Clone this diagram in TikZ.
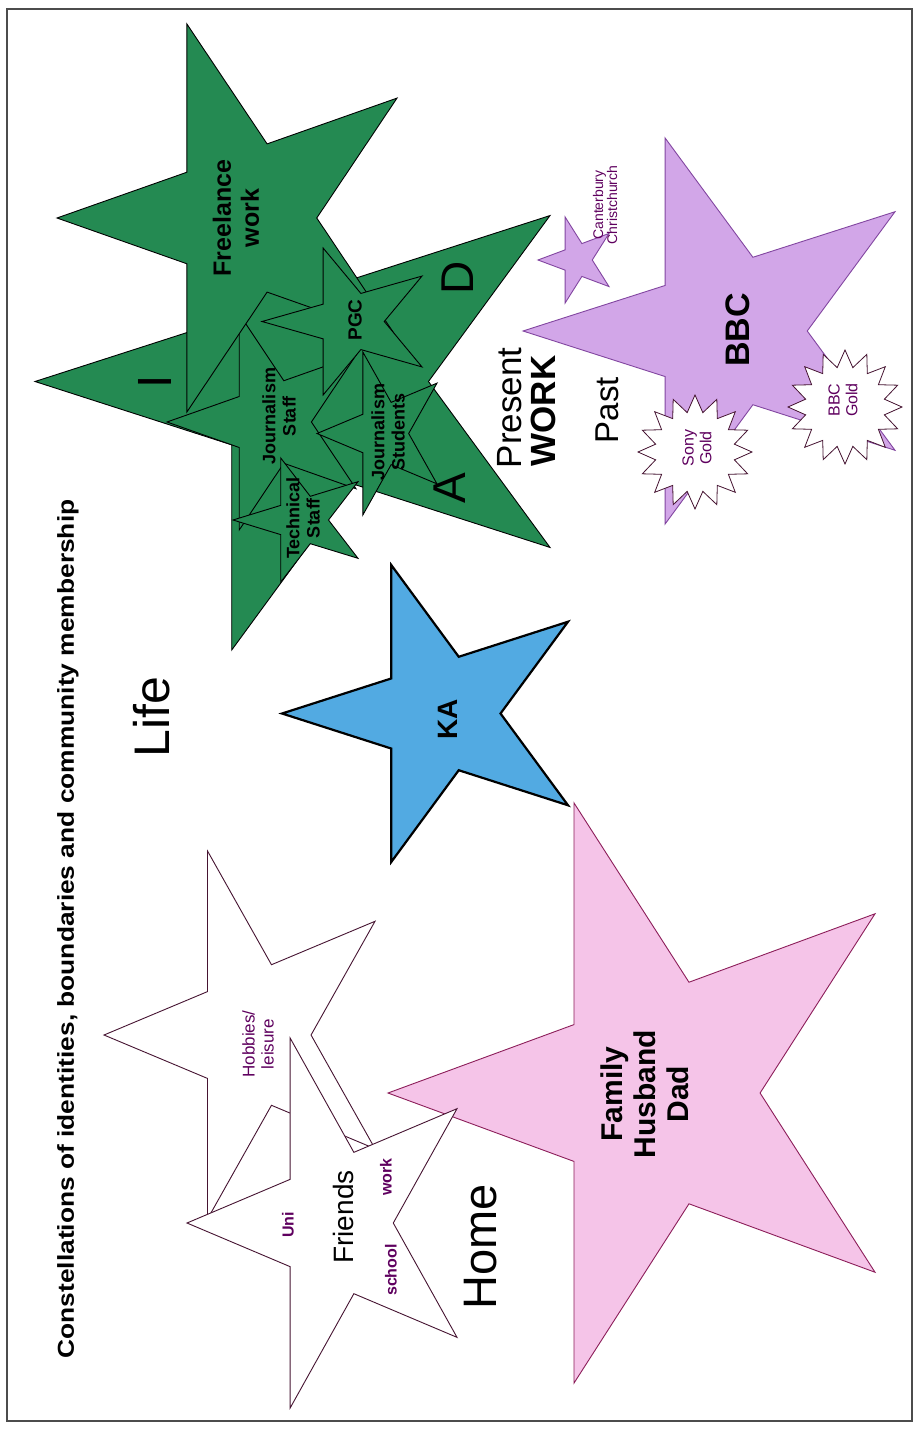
\documentclass[tikz,border=0pt]{standalone}
\usepackage{fontspec}
\setmainfont{Liberation Sans}
\newfontfamily\widefont{Liberation Sans}[FakeStretch=1.145]
\usetikzlibrary{shapes.geometric}
\definecolor{grn}{RGB}{36,138,82}
\definecolor{kablue}{RGB}{82,170,226}
\definecolor{pinkf}{RGB}{245,196,232}
\definecolor{pinkd}{RGB}{140,30,90}
\definecolor{lilac}{RGB}{210,166,232}
\definecolor{lilacd}{RGB}{130,70,160}
\definecolor{lblp}{RGB}{95,0,95}
\definecolor{wline}{RGB}{70,20,50}
\newcommand{\fs}[1]{\fontsize{#1pt}{\the\dimexpr #1pt*112/100\relax}\selectfont}
\newcommand{\pstar}[5]{%
  \begin{scope}[shift={(#2,#4)},xscale={#3-#2},yscale={#5-#4}]
    \path[#1] (0,0.5) -- (0.382,0.382) -- (0.382,0) -- (0.618,0.309) -- (1,0.191)
      -- (0.764,0.5) -- (1,0.809) -- (0.618,0.691) -- (0.382,1) -- (0.382,0.618) -- cycle;
  \end{scope}}
\tikzset{
  gstar/.style={draw=black, fill=grn, line width=0.9pt, line join=miter},
  lbl/.style={rotate=90, inner sep=0pt, align=center},
  seal/.style={star, star points=16, star point ratio=1.42, minimum size=114pt,
    draw=wline, fill=white, line width=0.8pt, inner sep=0pt}
}
\begin{document}
\begin{tikzpicture}[x=1pt,y=-1pt]
\useasboundingbox (0,0) rectangle (918,1429);
\fill[white] (0,0) rectangle (918,1429);
\draw[black!70, line width=1.5pt] (7,9) rectangle (912,1421);

% green cluster
\pstar{gstar}{35}{550}{113}{650}
\pstar{gstar}{167}{356}{314}{530}
\pstar{gstar}{233}{358}{458}{582}
\pstar{gstar}{57}{397}{24}{412}
\pstar{gstar}{262}{422}{248}{395}
\pstar{gstar}{317}{437}{352}{515}

% KA
\pstar{draw=black, fill=kablue, line width=2.2pt, line join=miter}{282}{568}{565}{862}

% Family
\pstar{draw=pinkd, fill=pinkf, line width=0.9pt}{388}{875}{803}{1383}

% Hobbies and Friends
\pstar{draw=wline, fill=white, line width=0.9pt}{104}{375}{851}{1219}
\pstar{draw=wline, fill=white, line width=0.9pt}{187}{457}{1038}{1408}

% BBC and Canterbury
\pstar{draw=lilacd, fill=lilac, line width=0.9pt}{523}{895}{138}{524}
\pstar{draw=lilacd, fill=lilac, line width=0.9pt}{538}{609}{217}{303}

% seals
\node[seal] (sony) at (695,452) {};
\node[seal] (bbcgold) at (845,407) {};

% texts
\node[lbl, font=\widefont\fs{23}\bfseries] (title) at (68,929) {Constellations of identities, boundaries and community membership};
\node[lbl, font=\fs{50}] (life) at (152,717) {Life};
\node[lbl, font=\fs{47}] (home) at (481,1247) {Home};
\node[lbl, font=\fs{35}] (present) at (510,408) {Present};
\node[lbl, font=\fs{35}\bfseries] (work) at (543,411) {WORK};
\node[lbl, font=\fs{33}] (past) at (607,410) {Past};
\node[lbl, font=\fs{34}\bfseries] (bbc) at (738,330) {BBC};
\node[lbl, font=\fs{16}, text=lblp] (sonyt) at (697,448) {Sony\\Gold};
\node[lbl, font=\fs{16}, text=lblp] (bbcgoldt) at (843,400) {BBC\\Gold};
\node[lbl, font=\fontsize{14pt}{14pt}\selectfont, text=lblp] (cant) at (605,205) {Canterbury\\Christchurch};
\node[lbl, font=\fontsize{30pt}{33pt}\selectfont\bfseries] (family) at (645,1094) {Family\\Husband\\Dad};
\node[lbl, font=\fs{28}\bfseries] (ka) at (448,719) {KA};
\node[lbl, font=\fs{17}, text=lblp] (hobbies) at (258,1044) {Hobbies/\\leisure};
\node[lbl, font=\fs{28}] (friends) at (343,1217) {Friends};
\node[lbl, font=\fs{16}\bfseries, text=lblp] (uni) at (288,1225) {Uni};
\node[lbl, font=\fs{16}\bfseries, text=lblp] (workf) at (386,1177) {work};
\node[lbl, font=\fs{16}\bfseries, text=lblp] (school) at (391,1270) {school};
\node[lbl, font=\fs{25}\bfseries] (freelance) at (236,218) {Freelance\\work};
\node[lbl, font=\fs{19}\bfseries] (pgc) at (355,320) {PGC};
\node[lbl, font=\fs{18}\bfseries] (jstaff) at (279,416) {Journalism\\Staff};
\node[lbl, font=\fs{18}\bfseries] (jstud) at (388,432) {Journalism\\Students};
\node[lbl, font=\fs{18}\bfseries] (tech) at (303,518) {Technical\\Staff};
\node[lbl, font=\fs{48}] (I) at (155,382) {I};
\node[lbl, font=\fs{46}] (D) at (458,278) {D};
\node[lbl, font=\fs{46}] (A) at (450,488) {A};
\end{tikzpicture}
\end{document}
